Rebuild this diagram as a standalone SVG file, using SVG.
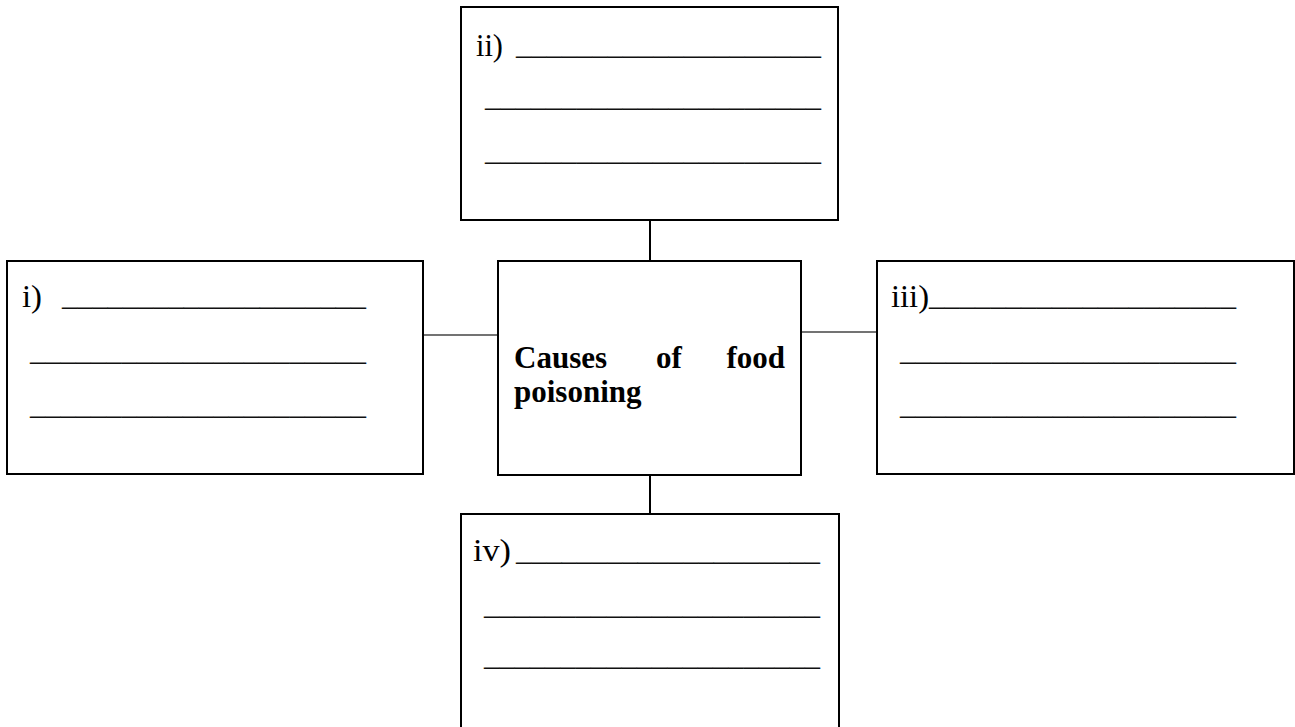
<svg xmlns="http://www.w3.org/2000/svg" width="1295" height="727" viewBox="0 0 1295 727">
<style>
.box{fill:#fff;stroke:#000;stroke-width:2}
.t{font-family:"Liberation Serif","Times New Roman",serif;font-size:31px;fill:#000}
.u{font-family:"Liberation Serif","Times New Roman",serif;font-size:32px;fill:#111}
.b{font-family:"Liberation Serif","Times New Roman",serif;font-size:31px;font-weight:bold;fill:#000}
.cv{stroke:#000;stroke-width:2;fill:none}
.ch{stroke:#444;stroke-width:1.6;fill:none}
</style>
<rect width="1295" height="727" fill="#fff"/>
<g id="connectors">
<line class="cv" x1="650" y1="220" x2="650" y2="261"/>
<line class="cv" x1="650" y1="475" x2="650" y2="514"/>
<line class="ch" x1="423" y1="335" x2="498" y2="335"/>
<line class="ch" x1="801" y1="332" x2="877" y2="332"/>
</g>
<g id="node-ii">
<rect class="box" x="461" y="7" width="377" height="213"/>
<text class="t" x="476" y="56" textLength="27" lengthAdjust="spacingAndGlyphs">ii)</text>
<text class="u" x="516" y="54" textLength="305" lengthAdjust="spacingAndGlyphs">____________________</text>
<text class="u" x="485" y="106" textLength="336" lengthAdjust="spacingAndGlyphs">______________________</text>
<text class="u" x="485" y="160" textLength="336" lengthAdjust="spacingAndGlyphs">______________________</text>
</g>
<g id="node-i">
<rect class="box" x="7" y="261" width="416" height="213"/>
<text class="t" x="22" y="307" textLength="20" lengthAdjust="spacingAndGlyphs">i)</text>
<text class="u" x="62" y="305" textLength="304" lengthAdjust="spacingAndGlyphs">____________________</text>
<text class="u" x="30" y="360" textLength="336" lengthAdjust="spacingAndGlyphs">______________________</text>
<text class="u" x="30" y="414" textLength="336" lengthAdjust="spacingAndGlyphs">______________________</text>
</g>
<g id="node-center">
<rect class="box" x="498" y="261" width="303" height="214"/>
<text class="b" x="514" y="368">Causes</text>
<text class="b" x="656" y="368">of</text>
<text class="b" x="785" y="368" text-anchor="end">food</text>
<text class="b" x="514" y="402">poisoning</text>
</g>
<g id="node-iii">
<rect class="box" x="877" y="261" width="417" height="213"/>
<text class="t" x="891" y="307" textLength="38" lengthAdjust="spacingAndGlyphs">iii)</text>
<text class="u" x="929" y="305" textLength="307" lengthAdjust="spacingAndGlyphs">____________________</text>
<text class="u" x="900" y="360" textLength="336" lengthAdjust="spacingAndGlyphs">______________________</text>
<text class="u" x="900" y="414" textLength="336" lengthAdjust="spacingAndGlyphs">______________________</text>
</g>
<g id="node-iv">
<rect class="box" x="461" y="514" width="378" height="230"/>
<text class="t" x="473" y="561" textLength="38" lengthAdjust="spacingAndGlyphs">iv)</text>
<text class="u" x="516" y="560" textLength="304" lengthAdjust="spacingAndGlyphs">____________________</text>
<text class="u" x="484" y="614" textLength="336" lengthAdjust="spacingAndGlyphs">______________________</text>
<text class="u" x="484" y="665" textLength="336" lengthAdjust="spacingAndGlyphs">______________________</text>
</g>
</svg>
